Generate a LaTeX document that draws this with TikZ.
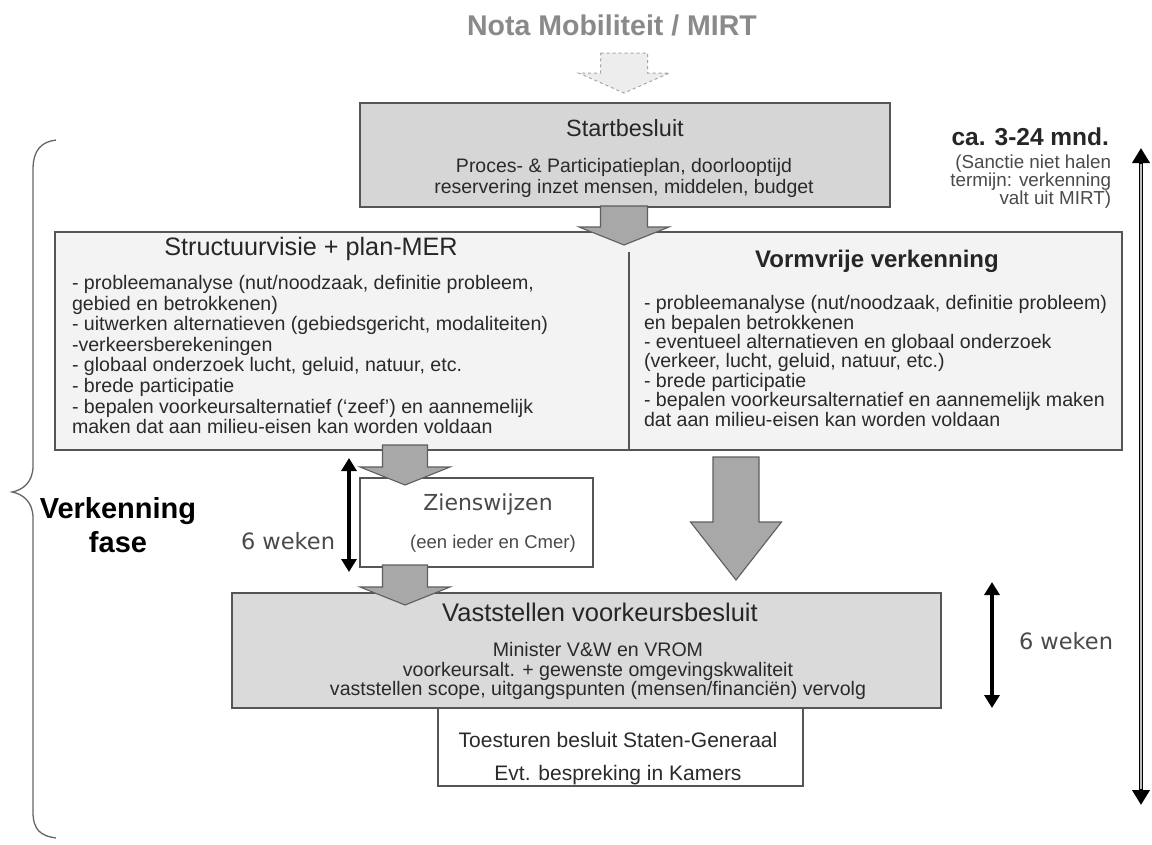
\documentclass[tikz,border=0pt]{standalone}
\usepackage{fontspec}
\setmainfont{Liberation Sans}
\newfontfamily\dvfont{DejaVu Sans}
\usetikzlibrary{arrows.meta,calc}
\definecolor{boxline}{HTML}{555555}
\definecolor{bodytext}{HTML}{2A2A2A}
\definecolor{startfill}{HTML}{D6D6D6}
\definecolor{bigfill}{HTML}{F3F3F3}
\definecolor{vastfill}{HTML}{DADADA}
\definecolor{arrfill}{HTML}{A8A8A8}
\definecolor{arrline}{HTML}{5E5E5E}
\definecolor{titlegray}{HTML}{8A8A8A}
\definecolor{softtext}{HTML}{4A4A4A}
\newcommand\fs[2]{\fontsize{#1}{#2}\selectfont}
% block arrow: cx, top, head-y, tip-y, shaft half width, head half width
\newcommand\blockarr[7][]{%
  \draw[blockarrow,#1] ({#2-#6},#3) -- ({#2+#6},#3) -- ({#2+#6},#4) -- ({#2+#7},#4)
    -- (#2,#5) -- ({#2-#7},#4) -- ({#2-#6},#4) -- cycle;}
\begin{document}
\begin{tikzpicture}[x=1pt,y=-1pt,
  every node/.style={inner sep=0pt, outer sep=0pt},
  boxstyle/.style={draw=boxline, line width=1.4pt, anchor=north west},
  blockarrow/.style={draw=arrline, line width=1.1pt, fill=arrfill, line join=miter},
  body/.style={text=bodytext, font=\fs{19.6}{20.6}, align=left, anchor=north west},
  durarrow/.style={line width=3.5pt, {Triangle[width=15pt,length=13pt]}-{Triangle[width=15pt,length=13pt]}},
]
\path[use as bounding box, fill=white] (0,0) rectangle (1152,844);

% ---------- title ----------
\node[font=\fs{28.5}{30}\bfseries, text=titlegray, anchor=base] (nota) at (612,35) {Nota Mobiliteit / MIRT};
\blockarr[fill=black!7, draw=black!35, dashed, line width=1pt]{624}{53}{73}{93}{23.5}{45.5}

% ---------- boxes ----------
\node[boxstyle, fill=startfill, minimum width=530pt, minimum height=104pt] (start) at (360,103) {};
\node[boxstyle, fill=bigfill, minimum width=1067pt, minimum height=218pt] (big) at (55,232) {};
\draw[boxline, line width=1.4pt] (629,252) coordinate (divtop) -- (629,450) coordinate (divbot);
\node[boxstyle, fill=white, minimum width=233pt, minimum height=89pt] (zien) at (360,478) {};
\node[boxstyle, fill=white, minimum width=365pt, minimum height=78pt] (toest) at (438,708) {};
\node[boxstyle, fill=vastfill, minimum width=709pt, minimum height=115pt] (vast) at (232,593) {};

% ---------- block arrows ----------
\blockarr{624}{206}{227}{245}{23.5}{45}
\blockarr{405}{445}{467}{485}{22.5}{45}
\blockarr{405}{565}{587}{605}{22.5}{45}
\blockarr{736}{457}{522}{580}{23}{45.5}

% ---------- Startbesluit ----------
\node[font=\fs{23.5}{25}, text=black!85, anchor=base] (starttitle) at (625,136) {Startbesluit};
\node[font=\fs{19.5}{21}, text=bodytext, align=center, anchor=north] (startbody) at (624,158.5)
  {Proces- \& Participatieplan, doorlooptijd\\reservering inzet mensen, middelen, budget};

% ---------- Structuurvisie ----------
\node[font=\fs{25.2}{26}, text=black!85, anchor=base] (lefttitle) at (311,255.5) {Structuurvisie + plan-MER};
\node[body] (leftbody) at (72,275.3) {%
- probleemanalyse (nut/noodzaak, definitie probleem,\\
gebied en betrokkenen)\\
- uitwerken alternatieven (gebiedsgericht, modaliteiten)\\
-verkeersberekeningen\\
- globaal onderzoek lucht, geluid, natuur, etc.\\
- brede participatie\\
- bepalen voorkeursalternatief (‘zeef’) en aannemelijk\\
maken dat aan milieu-eisen kan worden voldaan};

% ---------- Vormvrije verkenning ----------
\node[font=\fs{24}{25}\bfseries, text=black!85, anchor=base] (righttitle) at (877,267.5) {Vormvrije verkenning};
\node[body, font=\fs{19.6}{19.4}] (rightbody) at (644,295.5) {%
- probleemanalyse (nut/noodzaak, definitie probleem)\\
en bepalen betrokkenen\\
- eventueel alternatieven en globaal onderzoek\\
(verkeer, lucht, geluid, natuur, etc.)\\
- brede participatie\\
- bepalen voorkeursalternatief en aannemelijk maken\\
dat aan milieu-eisen kan worden voldaan};

% ---------- Zienswijzen ----------
\node[font=\fs{22}{24}\dvfont, text=softtext, anchor=base] (zientitle) at (488,510) {Zienswijzen};
\node[font=\fs{18.5}{19}, text=softtext, anchor=base] (zienbody) at (493,548) {(een ieder en Cmer)};

% ---------- Vaststellen ----------
\node[font=\fs{25.5}{26}, text=black!85, anchor=base] (vasttitle) at (600,621.5) {Vaststellen voorkeursbesluit};
\node[font=\fs{19.6}{19.5}, text=bodytext, align=center, anchor=north] (vastbody) at (598,642.4)
  {Minister V\&W en VROM\\voorkeursalt. + gewenste omgevingskwaliteit\\vaststellen scope, uitgangspunten (mensen/financiën) vervolg};

% ---------- Toesturen ----------
\node[font=\fs{21}{22}, text=bodytext, anchor=base] (toest1) at (618,747.5) {Toesturen besluit Staten-Generaal};
\node[font=\fs{21}{22}, text=bodytext, anchor=base] (toest2) at (618,780.5) {Evt. bespreking in Kamers};

% ---------- duration markers ----------
\coordinate (lwtop) at (349,458);
\coordinate (lwbot) at (349,572);
\draw[durarrow] (lwtop) -- (lwbot);
\node[font=\fs{22.5}{24}\dvfont, text=softtext, anchor=base west] (lweken) at (241,549.5) {6 weken};

\coordinate (rwtop) at (992,582);
\coordinate (rwbot) at (992,708);
\draw[durarrow] (rwtop) -- (rwbot);
\node[font=\fs{22.5}{24}\dvfont, text=softtext, anchor=base west] (rweken) at (1019,649.5) {6 weken};

\coordinate (longtop) at (1141,148);
\coordinate (longbot) at (1141,805);
\draw[line width=4.5pt, {Triangle[width=17pt,length=15pt]}-{Triangle[width=17pt,length=15pt]}] (longtop) -- (longbot);
\draw[line width=1.5pt, white!75!black, shorten <=16pt, shorten >=16pt] (longtop) -- (longbot);

\node[font=\fs{24.5}{26}\bfseries, text=black!85, anchor=base east] (mnd) at (1109,145) {ca. 3-24 mnd.};
\node[font=\fs{18.8}{18}, text=softtext, align=right, anchor=north east] (sanctie) at (1111,155.3)
  {(Sanctie niet halen\\termijn: verkenning\\valt uit MIRT)};

% ---------- brace ----------
\draw[black!60, line width=1.3pt] (56,140) .. controls (41,142) and (33,150) .. (33,170) -- (33,466)
  .. controls (33,482) and (23,490) .. (12,492) .. controls (23,494) and (33,502) .. (33,518)
  -- (33,812) .. controls (33,830) and (41,836) .. (56,838);
\node[font=\fs{29}{34}\bfseries, align=center, anchor=north] (fase) at (118,497)
  {Verkenning\\fase};
\end{tikzpicture}
\end{document}
